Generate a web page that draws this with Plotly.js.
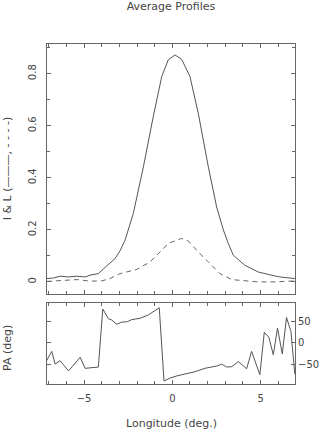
<!DOCTYPE html>
<html>
<head>
<meta charset="utf-8">
<script src="https://cdn.plot.ly/plotly-3.0.1.min.js"></script>
<style>
  body { margin: 0; background: #fff; }
  #chart { width: 327px; height: 430px; }
</style>
</head>
<body>
<div id="chart"></div>
<script>
// intensity profile I (solid) and linear pol. L (dashed)
var lonI = [-7.1, -6.73, -6.36, -5.88, -5.41, -4.94, -4.66, -4.19, -3.71, -3.24, -2.96, -2.68,
  -2.21, -1.64, -1.08, -0.6, -0.23, 0.15, 0.53, 1.0, 1.47, 2.04, 2.51, 2.89, 3.17, 3.45,
  4.11, 4.87, 5.62, 6.09, 6.94];
var valI = [0.013, 0.015, 0.022, 0.019, 0.022, 0.019, 0.026, 0.032, 0.062, 0.09, 0.12, 0.16,
  0.263, 0.442, 0.635, 0.789, 0.853, 0.872, 0.855, 0.789, 0.648, 0.442, 0.288, 0.2, 0.148, 0.103,
  0.064, 0.038, 0.026, 0.019, 0.013];

var lonL = [-7.1, -6.36, -5.41, -4.66, -4.0, -3.53, -2.96, -2.01, -1.26, -0.51, -0.23, 0.25,
  0.53, 0.91, 1.47, 2.04, 2.7, 3.36, 4.11, 4.87, 5.81, 6.94];
var valL = [0.002, 0.006, 0.009, 0.003, 0.004, 0.013, 0.032, 0.048, 0.077, 0.128, 0.148, 0.16,
  0.167, 0.157, 0.115, 0.077, 0.032, 0.009, 0.004, 0.0, 0.0, 0.004];

// position angle
var lonPA = [-7.15, -6.83, -6.64, -6.36, -5.88, -5.22, -4.94, -4.19, -3.94, -3.62, -3.43, -3.15,
  -2.86, -2.55, -2.3, -1.83, -1.36, -0.74, -0.47, -0.13, 0.25, 0.72, 1.28, 1.85, 2.32, 2.57,
  2.79, 3.08, 3.36, 3.74, 4.21, 4.49, 4.96, 5.21, 5.47, 5.72, 5.96, 6.23, 6.47, 6.72, 6.94];
var valPA = [-44, -20, -50, -42, -66, -34, -60, -57, 80, 57, 54, 44,
  49, 50, 55, 58, 66, 83, -90, -83, -78, -74, -68, -60, -56, -54,
  -50, -57, -56, -44, -61, -20, -75, 25, 13, -28, 35, -26, 60, 27, -74];

var paTicks = [-50, 0, 50];

var fnt = {family: 'DejaVu Sans, sans-serif', size: 10, color: '#444'};
var tfnt = {family: 'DejaVu Sans, sans-serif', size: 11, color: '#444'};
var axc = '#666';

var traceI = {
  x: lonI, y: valI, type: 'scatter', mode: 'lines',
  line: {color: '#555', width: 1}, xaxis: 'x', yaxis: 'y'
};
var traceL = {
  x: lonL, y: valL, type: 'scatter', mode: 'lines',
  line: {color: '#666', width: 1, dash: '5px,4px'}, xaxis: 'x', yaxis: 'y'
};
var tracePA = {
  x: lonPA, y: valPA, type: 'scatter', mode: 'lines',
  line: {color: '#555', width: 1}, xaxis: 'x2', yaxis: 'y2'
};

var layout = {
  width: 327, height: 430,
  margin: {l: 47, r: 32, t: 44, b: 46},
  paper_bgcolor: '#fff', plot_bgcolor: '#fff',
  showlegend: false,
  font: fnt,
  title: {
    text: 'Average Profiles', font: tfnt,
    xref: 'paper', x: 0.5, xanchor: 'center',
    yref: 'container', y: 0.985, yanchor: 'middle'
  },
  xaxis: {
    domain: [0, 1], anchor: 'y', range: [-7.1, 6.95],
    showticklabels: false, showgrid: false, zeroline: false,
    showline: true, linecolor: axc, linewidth: 1, mirror: 'allticks',
    ticks: 'inside', dtick: 5, tick0: 0, ticklen: 4, tickcolor: axc,
    minor: {dtick: 1, ticks: 'inside', ticklen: 3, tickcolor: axc}
  },
  yaxis: {
    domain: [0.265, 1], anchor: 'x', range: [-0.046, 0.914],
    showgrid: false, zeroline: false,
    showline: true, linecolor: axc, linewidth: 1, mirror: 'allticks',
    ticks: 'inside', dtick: 0.2, tick0: 0, ticklen: 4, tickcolor: axc,
    minor: {dtick: 0.1, ticks: 'inside', ticklen: 3, tickcolor: axc},
    tickangle: -90, tickfont: fnt, ticklabelstandoff: 6
  },
  xaxis2: {
    domain: [0, 1], anchor: 'y2', range: [-7.1, 6.95],
    showgrid: false, zeroline: false,
    showline: true, linecolor: axc, linewidth: 1, mirror: 'allticks',
    ticks: 'inside', dtick: 5, tick0: 0, ticklen: 4, tickcolor: axc,
    minor: {dtick: 1, ticks: 'inside', ticklen: 3, tickcolor: axc},
    tickfont: fnt, ticklabelstandoff: 5
  },
  yaxis2: {
    domain: [0, 0.238], anchor: 'x2', range: [-97, 94], side: 'right',
    showgrid: false, zeroline: false,
    showline: true, linecolor: axc, linewidth: 1, mirror: 'allticks',
    ticks: 'inside', tickvals: paTicks, ticklen: 4, tickcolor: axc,
    tickfont: fnt
  },
  annotations: [
    {text: 'I & L (\u2014\u2014\u2014, - - - -)', textangle: -90, font: tfnt, showarrow: false,
     xref: 'paper', yref: 'paper', x: -0.161, y: 0.632, xanchor: 'center', yanchor: 'middle'},
    {text: 'PA (deg)', textangle: -90, font: tfnt, showarrow: false,
     xref: 'paper', yref: 'paper', x: -0.157, y: 0.106, xanchor: 'center', yanchor: 'middle'},
    {text: 'Longitude (deg.)', font: tfnt, showarrow: false,
     xref: 'paper', yref: 'paper', x: 0.5, y: -0.115, xanchor: 'center', yanchor: 'middle'}
  ]
};

Plotly.newPlot('chart', [traceI, traceL, tracePA], layout, {displayModeBar: false, staticPlot: true});
</script>
</body>
</html>
